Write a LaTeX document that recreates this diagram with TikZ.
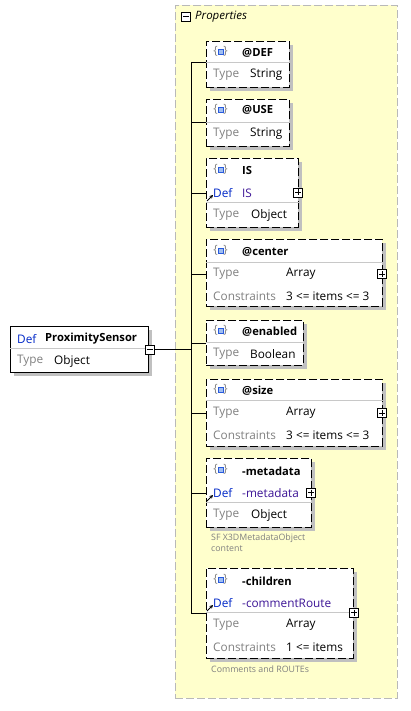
\documentclass[tikz,border=0pt]{standalone}
\usepackage{fontspec}
\setmainfont{Open Sans}
\usetikzlibrary{arrows.meta,calc}
\definecolor{propfill}{RGB}{255,255,204}
\definecolor{propborder}{RGB}{185,185,185}
\definecolor{shadowc}{RGB}{192,192,192}
\definecolor{defblue}{RGB}{0,40,200}
\definecolor{defval}{RGB}{60,20,150}
\definecolor{typegray}{RGB}{128,128,128}
\definecolor{divgray}{RGB}{200,200,200}
\definecolor{iconblue}{RGB}{40,90,220}
\definecolor{iconfill}{RGB}{160,190,240}
\tikzset{
  pbox/.style={draw=black, fill=white, line width=0.9pt, dash pattern=on 8pt off 3pt, inner sep=0pt, anchor=north west},
  sbox/.style={draw=black, fill=white, line width=0.9pt, inner sep=0pt, anchor=north west},
  lbl/.style={anchor=west, inner sep=0pt, font=\fontsize{11.8}{14}\selectfont},
  namelbl/.style={lbl, font=\fontsize{11.2}{13}\selectfont\bfseries},
  typelbl/.style={lbl, text=typegray},
  deflbl/.style={lbl, text=defblue},
  defvallbl/.style={lbl, text=defval},
  note/.style={anchor=west, inner sep=0pt, text=typegray, font=\fontsize{8.8}{10}\selectfont},
  conn/.style={draw=black, line width=0.8pt},
  divider/.style={draw=divgray, line width=0.8pt},
  togglebox/.style={draw=black, fill=white, line width=0.7pt, minimum size=9pt, inner sep=0pt},
}
\newcommand\mkbox[6]{%
  \fill[shadowc] ({#3+4},{#4+4}) rectangle ({#5+4},{#6+4});
  \node[#2, minimum width={(#5-#3)*1pt}, minimum height={(#6-#4)*1pt}] (#1) at (#3,#4) {};
}
\newcommand\attricon[3]{% name, x, y (center)
  \node[anchor=center, inner sep=0pt, text=typegray, font=\fontsize{11.5}{13}\selectfont] (#1l) at ({#2-5},{#3-0.5}) {\{};
  \node[anchor=center, inner sep=0pt, text=typegray, font=\fontsize{11.5}{13}\selectfont] (#1r) at ({#2+5},{#3-0.5}) {\}};
  \node[draw=iconblue, fill=iconfill, line width=1pt, minimum size=5pt, inner sep=0pt] (#1s) at (#2,#3) {};
}
\newcommand\plusicon[3]{%
  \node[togglebox] (#1) at (#2,#3) {};
  \draw[line width=0.7pt] ($(#1.center)+(-3,0)$) -- ($(#1.center)+(3,0)$);
  \draw[line width=0.7pt] ($(#1.center)+(0,-3)$) -- ($(#1.center)+(0,3)$);
}
\newcommand\minusicon[3]{%
  \node[togglebox] (#1) at (#2,#3) {};
  \draw[line width=0.7pt] ($(#1.center)+(-3,0)$) -- ($(#1.center)+(3,0)$);
}
\newcommand\refarrow[3]{%
  \coordinate (#1a) at (#2,{#3+8});
  \coordinate (#1b) at ({#2+6},{#3+2});
  \draw[line width=1pt, -{Stealth[length=3.5pt,width=3.5pt]}] (#1a) -- (#1b);
}
\begin{document}
\begin{tikzpicture}[x=1pt, y=-1pt]
\useasboundingbox (0,0) rectangle (411,711);

% Properties group
\node[draw=propborder, fill=propfill, line width=0.9pt, dash pattern=on 8pt off 3pt,
      minimum width=222pt, minimum height=693pt, anchor=north west, inner sep=0pt] (props) at (175,5) {};
\minusicon{propsmin}{186}{16.5}
\node[lbl, font=\fontsize{11.5}{13}\selectfont\itshape] (propstitle) at (195,17) {Properties};

% Main element
\mkbox{ps}{sbox}{10}{326}{148}{372}
\draw[divider] (ps.west |- 0,348) -- (ps.east |- 0,348);
\node[deflbl] (psdef) at (17,339) {Def};
\node[namelbl] (psname) at (45,339) {ProximitySensor};
\node[typelbl] (pstype) at (17,361) {Type};
\node[lbl] (pstypev) at (54,361) {Object};
\minusicon{psmin}{149.5}{349.5}

% vertical bus
\coordinate (vtop) at (191,62);
\coordinate (vbot) at (191,613);
\coordinate (vmid) at (191,349.5);
\draw[conn] (vtop) -- (vbot);
\draw[conn] (psmin.east) -- (vmid);

% @DEF
\mkbox{def}{pbox}{206}{41}{289}{87}
\draw[divider] (def.west |- 0,62) -- (def.east |- 0,62);
\attricon{defi}{220.5}{52}
\node[namelbl] (defn) at (242,53) {@DEF};
\node[typelbl] (deft) at (213,75) {Type};
\node[lbl] (deftv) at (250,75) {String};
\draw[conn] (vtop) -- (def.west |- vtop);

% @USE
\mkbox{use}{pbox}{206}{99}{289}{146}
\draw[divider] (use.west |- 0,122) -- (use.east |- 0,122);
\attricon{usei}{220.5}{110}
\node[namelbl] (usen) at (242,110) {@USE};
\node[typelbl] (uset) at (213,134) {Type};
\node[lbl] (usetv) at (250,134) {String};
\coordinate (cuse) at (191,122);
\draw[conn] (cuse) -- (use.west |- cuse);

% IS
\mkbox{is}{pbox}{206}{158}{298}{227}
\draw[divider] (is.west |- 0,202) -- (is.east |- 0,202);
\attricon{isi}{220.5}{170}
\node[namelbl] (isn) at (242,171) {IS};
\node[deflbl] (isd) at (213,193) {Def};
\node[defvallbl] (isdv) at (242,193) {IS};
\node[typelbl] (ist) at (213,215) {Type};
\node[lbl] (istv) at (251,215) {Object};
\plusicon{isplus}{298}{192.5}
\refarrow{isarr}{207}{193}
\coordinate (cis) at (191,193);
\draw[conn] (cis) -- (is.west |- cis);

% @center
\mkbox{cen}{pbox}{206}{239}{382}{306}
\draw[divider] (cen.west |- 0,262) -- (cen.east |- 0,262);
\attricon{ceni}{220.5}{251}
\node[namelbl] (cenn) at (242,252) {@center};
\node[typelbl] (cent) at (213,274) {Type};
\node[lbl] (centv) at (286,274) {Array};
\node[typelbl] (cenc) at (213,296) {Constraints};
\node[lbl] (cencv) at (286,296) {3 <= items <= 3};
\plusicon{cenplus}{382}{274}
\coordinate (ccen) at (191,274);
\draw[conn] (ccen) -- (cen.west |- ccen);

% @enabled
\mkbox{ena}{pbox}{206}{320}{303}{365}
\draw[divider] (ena.west |- 0,342) -- (ena.east |- 0,342);
\attricon{enai}{220.5}{331}
\node[namelbl] (enan) at (242,332) {@enabled};
\node[typelbl] (enat) at (213,354) {Type};
\node[lbl] (enatv) at (250,354) {Boolean};
\coordinate (cena) at (191,343);
\draw[conn] (cena) -- (ena.west |- cena);

% @size
\mkbox{siz}{pbox}{206}{379}{382}{446}
\draw[divider] (siz.west |- 0,400) -- (siz.east |- 0,400);
\attricon{sizi}{220.5}{390}
\node[namelbl] (sizn) at (242,391) {@size};
\node[typelbl] (sizt) at (213,413) {Type};
\node[lbl] (siztv) at (286,413) {Array};
\node[typelbl] (sizc) at (213,435) {Constraints};
\node[lbl] (sizcv) at (286,435) {3 <= items <= 3};
\plusicon{sizplus}{382}{413}
\coordinate (csiz) at (191,413);
\draw[conn] (csiz) -- (siz.west |- csiz);

% -metadata
\mkbox{met}{pbox}{206}{458}{311}{527}
\draw[divider] (met.west |- 0,502) -- (met.east |- 0,502);
\attricon{meti}{220.5}{470}
\node[namelbl] (metn) at (242,471) {-metadata};
\node[deflbl] (metd) at (213,493) {Def};
\node[defvallbl] (metdv) at (242,493) {-metadata};
\node[typelbl] (mett) at (213,515) {Type};
\node[lbl] (mettv) at (251,515) {Object};
\plusicon{metplus}{311}{492.5}
\refarrow{metarr}{207}{493}
\node[note] (metnote1) at (211,538) {SF X3DMetadataObject};
\node[note] (metnote2) at (211,549) {content};
\coordinate (cmet) at (191,493);
\draw[conn] (cmet) -- (met.west |- cmet);

% -children
\mkbox{chi}{pbox}{206}{568}{353}{658}
\draw[divider] (chi.west |- 0,612) -- (chi.east |- 0,612);
\attricon{chii}{220.5}{580}
\node[namelbl] (chin) at (242,581) {-children};
\node[deflbl] (chid) at (213,603) {Def};
\node[defvallbl] (chidv) at (242,603) {-commentRoute};
\node[typelbl] (chit) at (213,625) {Type};
\node[lbl] (chitv) at (286,625) {Array};
\node[typelbl] (chic) at (213,647) {Constraints};
\node[lbl] (chicv) at (286,647) {1 <= items};
\plusicon{chiplus}{354}{612.5}
\refarrow{chiarr}{207}{603}
\node[note] (chinote) at (211,669) {Comments and ROUTEs};
\draw[conn] (vbot) -- (chi.west |- vbot);
\end{tikzpicture}
\end{document}
